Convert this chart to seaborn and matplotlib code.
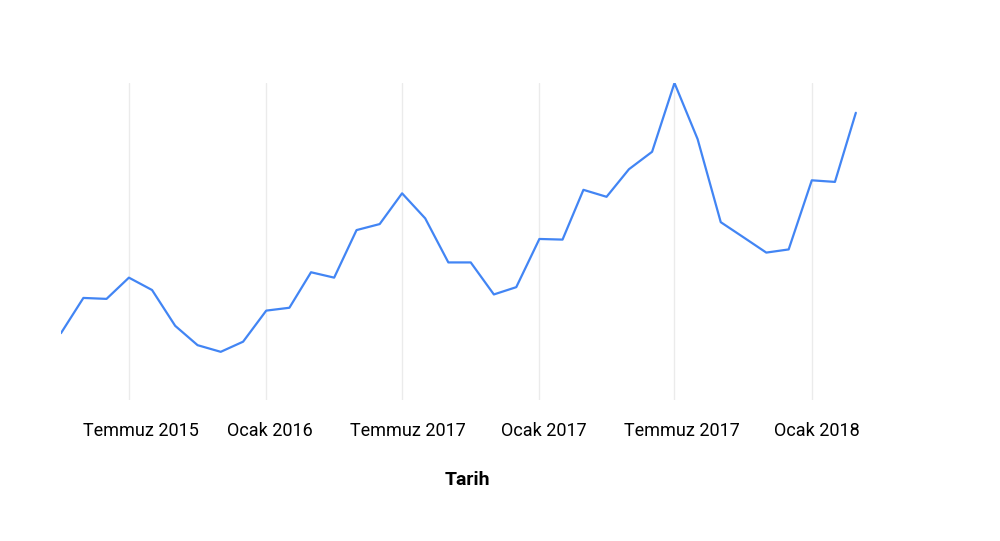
import pandas as pd
import matplotlib.pyplot as plt
import matplotlib.transforms as mtransforms
import seaborn as sns

# ---------------- DATA ----------------
months = pd.date_range("2015-04-01", "2018-03-01", freq="MS")
values = [21.1, 32.2, 31.9, 38.6, 34.7, 23.4, 17.3, 15.2, 18.4, 28.2,
          29.1, 40.3, 38.6, 53.6, 55.5, 65.2, 57.3, 43.4, 43.4, 33.3,
          35.6, 50.8, 50.6, 66.3, 64.1, 72.8, 78.3, 100.0, 82.3, 56.1,
          51.4, 46.5, 47.5, 69.3, 68.8, 90.6]
tick_dates = pd.to_datetime(["2015-07-01", "2016-01-01", "2016-07-01",
                             "2017-01-01", "2017-07-01", "2018-01-01"])
tick_labels = ["Temmuz 2015", "Ocak 2016", "Temmuz 2017",
               "Ocak 2017", "Temmuz 2017", "Ocak 2018"]
x_label = "Tarih"

df = pd.DataFrame({"tarih": months, "deger": values})

# ---------------- STYLE ----------------
sns.set_theme(style="white")
plt.rcParams["font.family"] = ["Roboto", "DejaVu Sans"]

fig = plt.figure(figsize=(10, 5.41), dpi=100)
ax = fig.add_axes([0.061, 0.2606, 0.812, 0.586])

sns.lineplot(data=df, x="tarih", y="deger", ax=ax, color="#4285f4", linewidth=1.6)

ax.set_xlim(pd.Timestamp("2015-04-01"), pd.Timestamp("2018-03-24"))
ax.set_ylim(0, 100)
ax.set_xticks(tick_dates)
ax.set_xticklabels(tick_labels, fontsize=13, color="black")
ax.tick_params(axis="x", length=0, pad=16)
ax.set_yticks([])
ax.set_ylabel("")
ax.set_xlabel(x_label, fontsize=14, fontweight="bold", color="black", labelpad=22)

# etiketler grid çizgisinin biraz sağında duruyor (px)
label_shift_px = [12.5, 4, 5.5, 4.5, 7, 5]
for lab, dx in zip(ax.get_xticklabels(), label_shift_px):
    lab.set_transform(lab.get_transform() +
                      mtransforms.ScaledTranslation(dx / 100, 0, fig.dpi_scale_trans))

ax.grid(axis="x", color="#ebebeb", linewidth=1)
ax.set_axisbelow(True)
sns.despine(ax=ax, left=True, bottom=True)

fig.savefig("out.png", dpi=100)
